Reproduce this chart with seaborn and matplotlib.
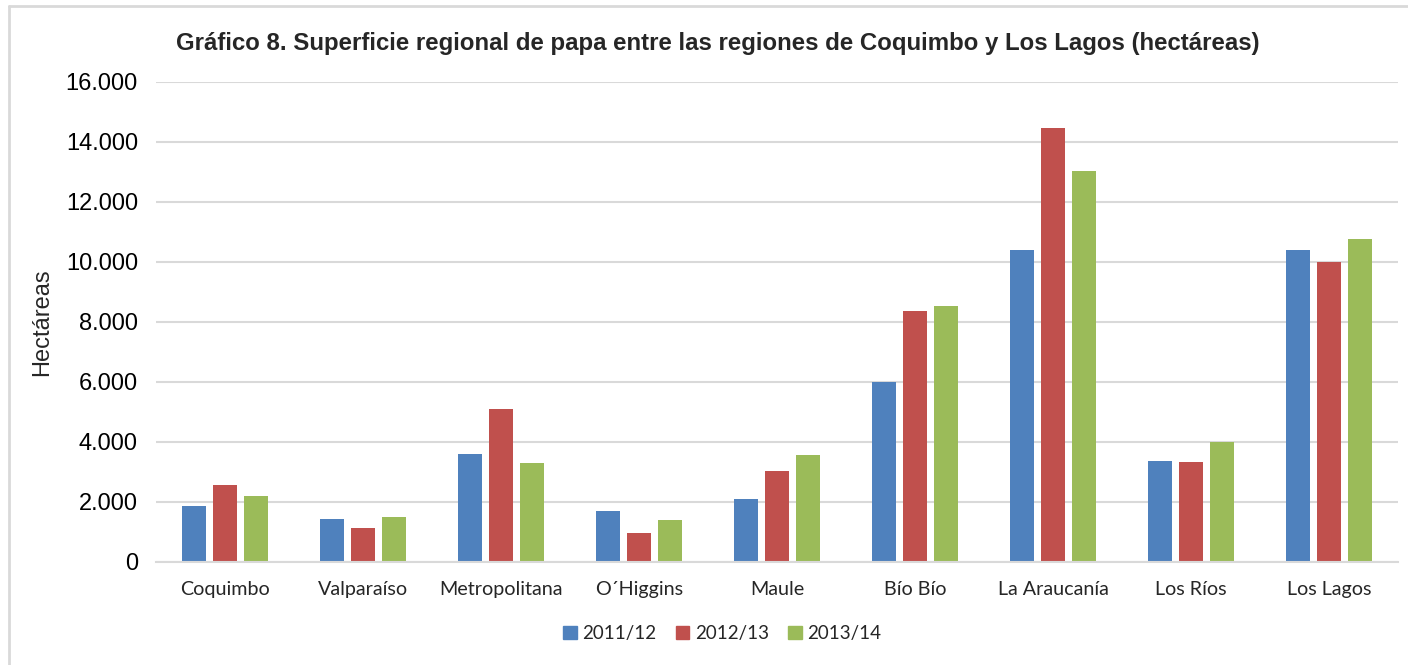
import matplotlib
matplotlib.use("Agg")
import matplotlib.pyplot as plt
import seaborn as sns
import pandas as pd
from matplotlib.ticker import FuncFormatter
from matplotlib.lines import Line2D

regions = ["Coquimbo", "Valparaíso", "Metropolitana", "O´Higgins", "Maule",
           "Bío Bío", "La Araucanía", "Los Ríos", "Los Lagos"]
seasons = ["2011/12", "2012/13", "2013/14"]
v_2011 = [1860, 1430, 3600, 1670, 2070, 5990, 10380, 3370, 10410]
v_2012 = [2540, 1110, 5090, 940, 3020, 8360, 14450, 3310, 9990]
v_2013 = [2190, 1480, 3300, 1400, 3550, 8530, 13040, 3990, 10750]
colors = ["#4F81BD", "#C0504D", "#9BBB59"]

df = pd.DataFrame({
    "Región": regions * 3,
    "Temporada": [seasons[0]] * 9 + [seasons[1]] * 9 + [seasons[2]] * 9,
    "Hectáreas": v_2011 + v_2012 + v_2013,
})

sns.set_theme(style="white")
plt.rcParams["font.family"] = ["Liberation Sans", "DejaVu Sans"]

fig = plt.figure(figsize=(14.08, 6.65), dpi=100)
ax = fig.add_axes([0.1108, 0.1556, 0.8821, 0.7211])

sns.barplot(data=df, x="Región", y="Hectáreas", hue="Temporada",
            palette=colors, width=0.674, gap=0.2, ax=ax, legend=False,
            saturation=1, edgecolor="none")

ax.set_ylim(0, 16000)
ax.set_yticks(range(0, 16001, 2000))
ax.yaxis.set_major_formatter(FuncFormatter(lambda v, p: f"{int(v):,}".replace(",", ".")))
ax.grid(axis="y", color="#D9D9D9", linewidth=1.5)
ax.set_axisbelow(True)
for s in ["top", "right", "left"]:
    ax.spines[s].set_visible(False)
ax.spines["bottom"].set_color("#D9D9D9")
ax.spines["bottom"].set_linewidth(1.5)
ax.tick_params(axis="y", labelsize=17, pad=13, length=0, colors="#000000")
ax.tick_params(axis="x", length=0, pad=14)
for lab in ax.get_xticklabels():
    lab.set_fontfamily(["Lato", "DejaVu Sans"])
    lab.set_fontsize(14.2)
ax.set_xlabel("")
ax.set_ylabel("Hectáreas", fontsize=17)
ax.yaxis.set_label_coords(-0.083, 0.5)

fig.text(0.5096, 0.934, "Gráfico 8. Superficie regional de papa entre las regiones de Coquimbo y Los Lagos (hectáreas)",
         ha="center", va="center", fontsize=17.25, fontweight="bold")

handles = [plt.Rectangle((0, 0), 1, 1, color=c) for c in colors]
leg = fig.legend(handles, seasons, loc="center", bbox_to_anchor=(0.513, 0.047), ncol=3,
                 frameon=False, handlelength=0.7, handleheight=0.7, handletextpad=0.3,
                 columnspacing=1.05, prop={"family": ["Lato"], "size": 13.5})

# outer frame
fig.add_artist(Line2D([9 / 1408, 9 / 1408], [0, 1 - 6 / 665], transform=fig.transFigure,
                      color="#D9D9D9", linewidth=2))
fig.add_artist(Line2D([9 / 1408, 1], [1 - 6 / 665, 1 - 6 / 665], transform=fig.transFigure,
                      color="#D9D9D9", linewidth=2))

fig.savefig("out.png", dpi=100)
